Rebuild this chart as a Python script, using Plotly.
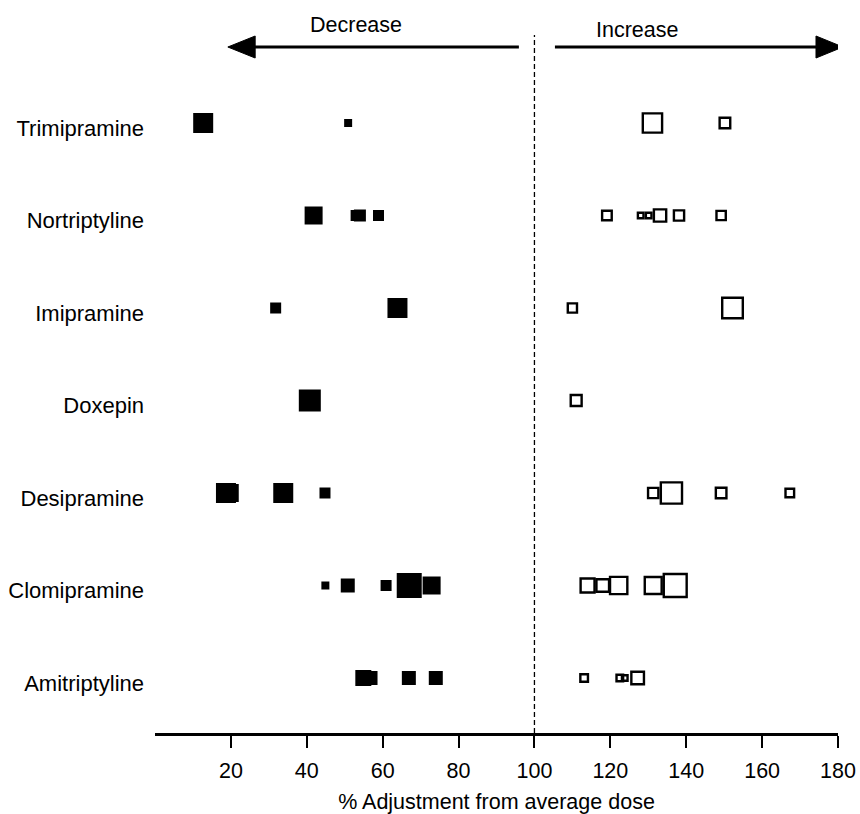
import plotly.graph_objects as go

# Drugs, bottom to top
drugs = ["Amitriptyline", "Clomipramine", "Desipramine", "Doxepin",
         "Imipramine", "Nortriptyline", "Trimipramine"]

# Decrease (filled squares): % adjustment and relative weight (marker px)
dec_drug = ["Trimipramine", "Trimipramine",
            "Nortriptyline", "Nortriptyline", "Nortriptyline", "Nortriptyline",
            "Imipramine", "Imipramine",
            "Doxepin",
            "Desipramine", "Desipramine", "Desipramine", "Desipramine",
            "Clomipramine", "Clomipramine", "Clomipramine", "Clomipramine", "Clomipramine",
            "Amitriptyline", "Amitriptyline", "Amitriptyline", "Amitriptyline"]
dec_value = [12.7, 50.9,
             41.8, 53.0, 54.0, 58.9,
             31.8, 63.9,
             40.8,
             18.7, 19.7, 33.8, 44.8,
             44.9, 50.8, 60.9, 67.0, 72.9,
             54.9, 56.8, 66.9, 74.0]
dec_weight = [20, 8,
              18, 11, 12, 11,
              11, 20,
              22,
              20, 18, 20, 11,
              8, 14, 11, 25, 18,
              16, 14, 14, 14]

# Increase (open squares)
inc_drug = ["Trimipramine", "Trimipramine",
            "Nortriptyline", "Nortriptyline", "Nortriptyline", "Nortriptyline", "Nortriptyline", "Nortriptyline",
            "Imipramine", "Imipramine",
            "Doxepin",
            "Desipramine", "Desipramine", "Desipramine", "Desipramine",
            "Clomipramine", "Clomipramine", "Clomipramine", "Clomipramine", "Clomipramine",
            "Amitriptyline", "Amitriptyline", "Amitriptyline", "Amitriptyline"]
inc_value = [131.1, 150.2,
             119.1, 128.0, 130.1, 133.1, 138.1, 149.2,
             110.0, 152.2,
             111.0,
             131.3, 136.1, 149.2, 167.3,
             114.0, 118.0, 122.2, 131.3, 137.1,
             113.1, 122.5, 123.8, 127.2]
inc_weight = [21.7, 13,
              12, 8, 8, 14.7, 12.6, 11.7,
              11.6, 23,
              13.3,
              12.7, 23.6, 13, 11,
              16.3, 15, 19.7, 19.3, 25.3,
              10, 9, 8, 15]

x_ticks = [20, 40, 60, 80, 100, 120, 140, 160, 180]

FONT = "Arial, Liberation Sans, Helvetica, sans-serif"
LW_OPEN = 2.4

idx = {d: i for i, d in enumerate(drugs)}

fig = go.Figure()
fig.add_trace(go.Scatter(
    x=dec_value, y=[idx[d] for d in dec_drug], mode="markers",
    marker=dict(symbol="square", color="black", size=dec_weight, opacity=1,
                line=dict(width=0)),
    showlegend=False, hoverinfo="x+y"))
fig.add_trace(go.Scatter(
    x=inc_value, y=[idx[d] for d in inc_drug], mode="markers",
    marker=dict(symbol="square-open", color="black", opacity=1,
                size=[w - LW_OPEN for w in inc_weight],
                line=dict(width=LW_OPEN, color="black")),
    showlegend=False, hoverinfo="x+y"))

y_lo, y_hi = -0.5946, 7.2
px = 92.5  # pixels per row (for decoration placement)
ax_y = 6 + (123 - 47) / px
half = 11 / px

shapes = [
    dict(type="line", xref="x", yref="y", x0=100, x1=100, y0=y_lo, y1=6.95,
         line=dict(color="black", width=1.3, dash="5px,3px")),
    # decrease arrow
    dict(type="line", xref="x", yref="y", x0=95.9, x1=26.0, y0=ax_y, y1=ax_y,
         line=dict(color="black", width=3)),
    dict(type="path", xref="x", yref="y",
         path=f"M 19.2,{ax_y} L 26.4,{ax_y + half} L 26.4,{ax_y - half} Z",
         fillcolor="black", line=dict(color="black", width=1)),
    # increase arrow
    dict(type="line", xref="x", yref="y", x0=105.4, x1=174.6, y0=ax_y, y1=ax_y,
         line=dict(color="black", width=3)),
    dict(type="path", xref="x", yref="y",
         path=f"M 181.3,{ax_y} L 174.2,{ax_y + half} L 174.2,{ax_y - half} Z",
         fillcolor="black", line=dict(color="black", width=1)),
]

annotations = [
    dict(x=53.0, y=6 + (123 - 25) / px, xref="x", yref="y", text="Decrease",
         showarrow=False, font=dict(size=21.5, color="black", family=FONT)),
    dict(x=127.0, y=6 + (123 - 30) / px, xref="x", yref="y", text="Increase",
         showarrow=False, font=dict(size=21.5, color="black", family=FONT)),
]

fig.update_layout(
    width=860, height=814,
    margin=dict(l=155, r=22, t=12, b=81),
    plot_bgcolor="white", paper_bgcolor="white",
    font=dict(family=FONT, size=21.5, color="black"),
    shapes=shapes, annotations=annotations,
    xaxis=dict(range=[0, 180], tickvals=x_ticks, showgrid=False, zeroline=False,
               automargin=False,
               showline=True, linecolor="black", linewidth=2.5,
               ticks="outside", ticklen=12, tickwidth=1.5, tickcolor="black",
               tickfont=dict(size=21.5), ticklabelstandoff=4,
               title=dict(text="% Adjustment from average dose",
                          font=dict(size=21.5), standoff=17)),
    yaxis=dict(range=[y_lo, y_hi], tickvals=list(range(len(drugs))), ticktext=drugs,
               automargin=False,
               showgrid=False, zeroline=False, showline=False, ticks="",
               tickfont=dict(size=22), ticklabelstandoff=10, ticklabelshift=5),
)

fig.write_html("out.html")
